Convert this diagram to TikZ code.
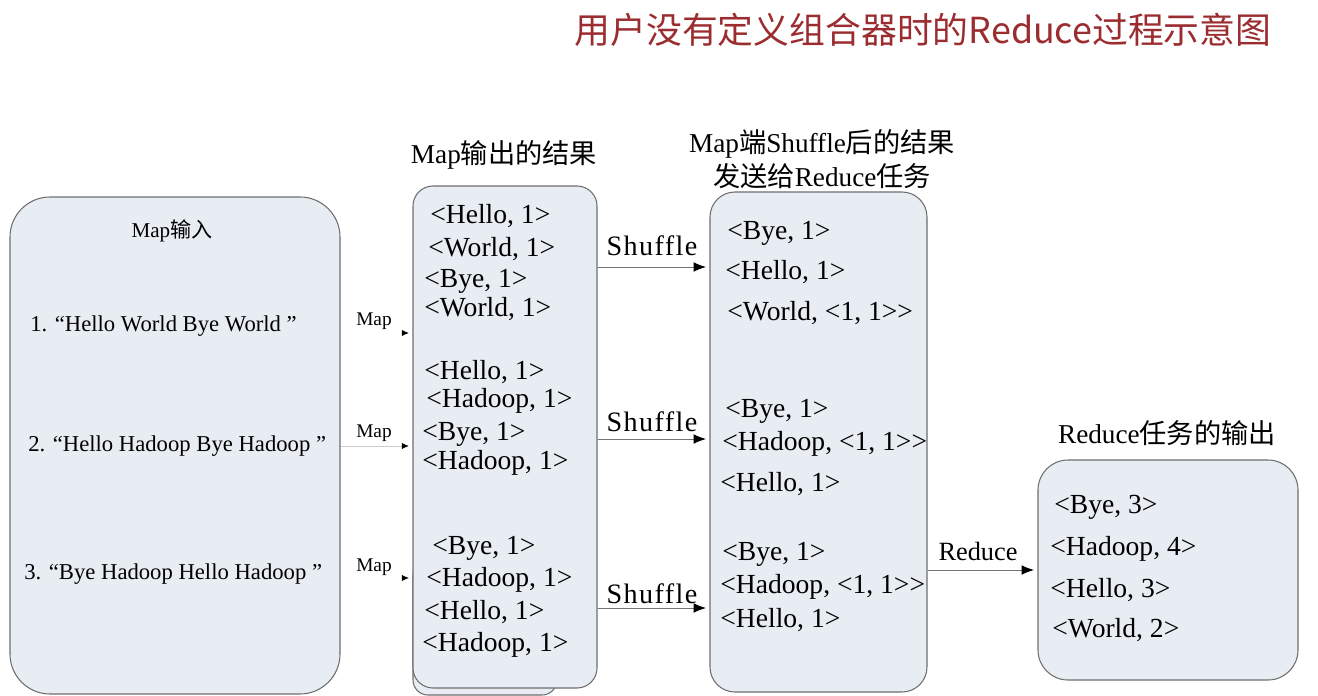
\documentclass[tikz,border=0pt]{standalone}
\usepackage{fontspec}
\setmainfont{Liberation Serif}
\newfontfamily\cjk{Noto Sans CJK SC}
\newcommand\zh[1]{{\cjk #1}}
\usetikzlibrary{arrows.meta,fit}
\definecolor{boxfill}{RGB}{232,236,243}
\definecolor{boxline}{RGB}{110,110,110}
\definecolor{titlered}{RGB}{155,45,48}
\tikzset{
  panel/.style={draw=boxline,fill=boxfill,inner sep=0pt,line width=0.6pt},
  pair/.style={anchor=west,inner sep=0pt,font=\fontsize{15.7}{19}\selectfont},
  head/.style={inner sep=0pt,align=center,font=\fontsize{15.5}{19.5}\selectfont},
  flow/.style={draw=black!55,line width=0.5pt,-{Latex[length=7pt,width=5.5pt,color=black]}},
  maplink/.style={line width=0.5pt,-{Latex[length=4pt,width=3.5pt,color=black]}},
  flowlab/.style={font=\fontsize{16}{19}\selectfont\addfontfeatures{LetterSpace=5}}
}

\begin{document}
\begin{tikzpicture}[x=0.02cm,y=-0.02cm]
  \useasboundingbox (0,0) rectangle (1318,696);
  \node[font=\cjk\fontsize{20.4}{24}\selectfont,text=titlered] (title) at (923,30) {用户没有定义组合器时的Reduce过程示意图};
  % panels
  \node[panel,rounded corners=0.8cm,fit={(10,197) (340,694)}] (in) {};
  \node[panel,rounded corners=0.3cm,fit={(413,560) (557,695)}] (outback) {};
  \node[panel,rounded corners=0.4cm,fit={(413,186) (597,688)}] (out) {};
  \node[panel,rounded corners=0.5cm,fit={(710,192) (927,692)}] (shuf) {};
  \node[panel,rounded corners=0.6cm,fit={(1038,460) (1298,680)}] (red) {};
  % headings
  \node[head,font=\fontsize{12}{14}\selectfont] (inhead) at (172,231) {Map\zh{输入}};
  \node[head] (outhead) at (504,155) {Map\zh{输出的结果}};
  \node[head] (shufhead) at (822,159) {Map\zh{端}Shuffle\zh{后的结果}\\\zh{发送给}Reduce\zh{任务}};
  \node[head] (redhead) at (1167,433) {Reduce\zh{任务的输出}};
  % input lines
  \foreach \x/\y/\t [count=\i] in {30/326/{1. “Hello World Bye World ”},
      28/446/{2. “Hello Hadoop Bye Hadoop ”},24/574/{3. “Bye Hadoop Hello Hadoop ”}}
    \node[pair,font=\fontsize{12.9}{15}\selectfont] (line\i) at (\x,\y) {\t};
  % map output
  \foreach \x/\y/\t [count=\i] in {430/216/{<Hello, 1>},428/249/{<World, 1>},424/281/{<Bye, 1>},
      424/309/{<World, 1>},424/372/{<Hello, 1>},426/401/{<Hadoop, 1>},422/434/{<Bye, 1>},
      422/463/{<Hadoop, 1>},432/548/{<Bye, 1>},426/580/{<Hadoop, 1>},424/612/{<Hello, 1>},
      422/645/{<Hadoop, 1>}}
    \node[pair] (o\i) at (\x,\y) {\t};
  % shuffled
  \foreach \x/\y/\t [count=\i] in {727/233/{<Bye, 1>},725/272/{<Hello, 1>},727/313/{<World, <1, 1>{}>},
      725/411/{<Bye, 1>},722/444/{<Hadoop, <1, 1>{}>},720/484/{<Hello, 1>},722/554/{<Bye, 1>},
      720/587/{<Hadoop, <1, 1>{}>},720/620/{<Hello, 1>}}
    \node[pair] (s\i) at (\x,\y) {\t};
  % reduce output
  \foreach \x/\y/\t [count=\i] in {1054/507/{<Bye, 3>},1050/549/{<Hadoop, 4>},
      1050/590/{<Hello, 3>},1052/630/{<World, 2>}}
    \node[pair] (r\i) at (\x,\y) {\t};
  % connectors
  \foreach \y/\l/\c [count=\i] in {333/321/white,446/433/black!20,578/567/white}{
    \coordinate (m\i) at (0,\y);
    \draw[maplink,draw=\c] (in.east |- m\i) -- ([xshift=-2]out.west |- m\i);
    \node[font=\fontsize{11}{13}\selectfont] (maplab\i) at (374,\l) {Map};
  }
  \foreach \y/\l [count=\i] in {267/246,439/422,608/594}{
    \coordinate (h\i) at (0,\y);
    \draw[flow] (out.east |- h\i) -- ([xshift=-2]shuf.west |- h\i);
    \node[flowlab] (shuflab\i) at (652,\l) {Shuffle};
  }
  \coordinate (q) at (0,570);
  \draw[flow] (shuf.east |- q) -- ([xshift=-2]red.west |- q);
  \node[font=\fontsize{15}{18}\selectfont] (redlab) at (978,551) {Reduce};
\end{tikzpicture}
\end{document}
